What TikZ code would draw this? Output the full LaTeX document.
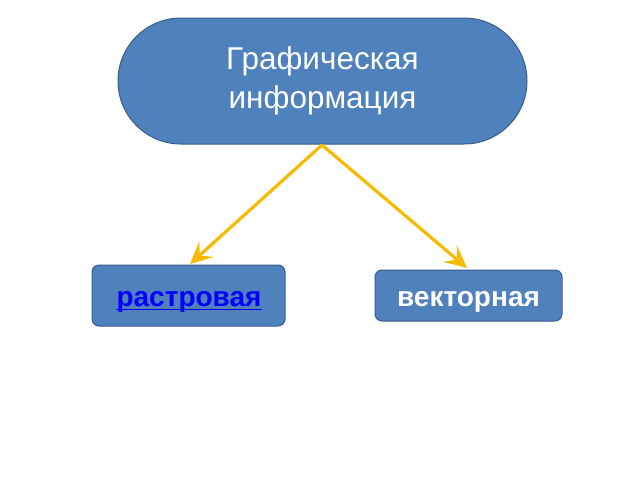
\documentclass[tikz,border=0pt]{standalone}
\usepackage{fontspec}
\setmainfont{Liberation Sans}
\usetikzlibrary{arrows.meta,shapes.misc}
\definecolor{boxfill}{HTML}{4F81BD}
\definecolor{boxline}{HTML}{385D8A}
\definecolor{arrowc}{HTML}{F8BA00}
\definecolor{linkc}{HTML}{0000FF}
\tikzset{
  topbox/.style={rounded rectangle, fill=boxfill, draw=boxline, line width=1pt,
    minimum width=409pt, minimum height=126pt, text=white, align=center,
    font=\fontsize{31.5}{39}\selectfont, inner sep=0pt},
  leafbox/.style={rectangle, rounded corners=7pt, fill=boxfill, draw=boxline, line width=1pt,
    inner sep=0pt},
  leaftext/.style={anchor=base, inner sep=0pt, font=\bfseries\fontsize{28}{32}\selectfont},
  linkline/.style={draw=linkc, line width=1.6pt},
  conn/.style={draw=arrowc, line width=3.2pt, -{Stealth[length=22pt,width=21pt,inset=9pt]}}
}
\begin{document}
\begin{tikzpicture}[x=1pt,y=-1pt]
\useasboundingbox (0,0) rectangle (640,480);
\node[topbox] (top) at (322.5,81) {Графическая\\информация};
\node[leafbox, minimum width=193pt, minimum height=61pt] (ras) at (188.5,295.5) {};
\node[leaftext, text=linkc] (rastext) at (189,306) {растровая};
\draw[linkline] ([yshift=-3.5pt]rastext.base west) -- ([yshift=-3.5pt]rastext.base east);
\node[leafbox, minimum width=187pt, minimum height=51pt] (vec) at (468.5,295.5) {};
\node[leaftext, text=white] (vectext) at (468.5,306) {векторная};
\coordinate (s) at (322,145);
\draw[conn] (s) -- (190,264);
\draw[conn] (s) -- (467,268);
\end{tikzpicture}
\end{document}
